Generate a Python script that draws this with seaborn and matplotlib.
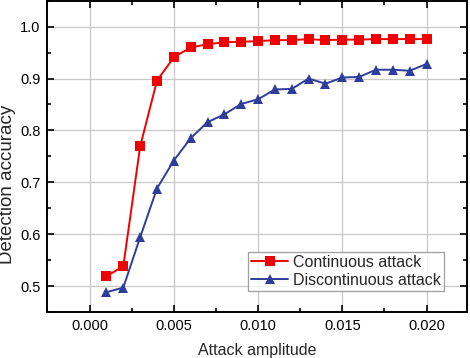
import pandas as pd
import matplotlib
matplotlib.use("Agg")
import matplotlib.pyplot as plt
import seaborn as sns
from matplotlib.ticker import MultipleLocator

# attack amplitude and detection accuracy
amplitude = [0.001, 0.002, 0.003, 0.004, 0.005, 0.006, 0.007, 0.008, 0.009, 0.010,
             0.011, 0.012, 0.013, 0.014, 0.015, 0.016, 0.017, 0.018, 0.019, 0.020]
continuous = [0.519, 0.538, 0.769, 0.896, 0.941, 0.960, 0.966, 0.970, 0.971, 0.972,
              0.974, 0.974, 0.976, 0.974, 0.975, 0.975, 0.976, 0.976, 0.976, 0.976]
discontinuous = [0.488, 0.497, 0.594, 0.688, 0.742, 0.785, 0.816, 0.831, 0.851, 0.860,
                 0.879, 0.880, 0.900, 0.890, 0.902, 0.903, 0.917, 0.917, 0.915, 0.928]
series_names = ["Continuous attack", "Discontinuous attack"]

df = pd.DataFrame({
    "amp": amplitude * 2,
    "acc": continuous + discontinuous,
    "kind": [series_names[0]] * len(amplitude) + [series_names[1]] * len(amplitude),
})

sns.set_style("ticks")
plt.rcParams["font.family"] = ["Liberation Sans", "DejaVu Sans"]

fig = plt.figure(figsize=(4.7, 3.58), dpi=100)
ax = fig.add_axes([0.101, 0.1285, 0.8926, 0.8695])

sns.lineplot(data=df, x="amp", y="acc", hue="kind", style="kind",
             palette={series_names[0]: "#f00000", series_names[1]: "#2e3d9a"},
             markers={series_names[0]: "s", series_names[1]: "^"},
             dashes=False, markersize=7.5, markeredgewidth=0, linewidth=1.4, ax=ax)

ax.set_xlim(-0.0025, 0.0224)
ax.set_ylim(0.45, 1.05)
ax.xaxis.set_major_locator(MultipleLocator(0.005))
ax.xaxis.set_minor_locator(MultipleLocator(0.0025))
ax.yaxis.set_major_locator(MultipleLocator(0.1))
ax.yaxis.set_minor_locator(MultipleLocator(0.05))
ax.xaxis.set_major_formatter(plt.FuncFormatter(lambda v, p: f"{v:.3f}"))
ax.yaxis.set_major_formatter(plt.FuncFormatter(lambda v, p: f"{v:.1f}"))
ax.grid(True, which="major", color="#c8c8c8", linewidth=0.9)
ax.tick_params(which="both", direction="in", top=True, right=True,
               width=1.2, labelsize=10.5, colors="black")
ax.tick_params(which="major", length=5, pad=5)
ax.tick_params(which="minor", length=3)
for s in ax.spines.values():
    s.set_linewidth(1.4)
    s.set_color("black")

ax.set_xlabel("Attack amplitude", fontsize=11.5, labelpad=7)
ax.set_ylabel("Detection accuracy", fontsize=13.5)
ax.yaxis.set_label_coords(-0.074, 0.41)

leg = ax.legend(loc="lower right", bbox_to_anchor=(0.945, 0.067), fontsize=11.5,
                frameon=True, fancybox=False, edgecolor="#888888",
                handlelength=2.3, borderpad=0.2, labelspacing=0.2,
                handletextpad=0.3, borderaxespad=0)
leg.get_frame().set_linewidth(0.9)

fig.savefig("out.png", dpi=100)
